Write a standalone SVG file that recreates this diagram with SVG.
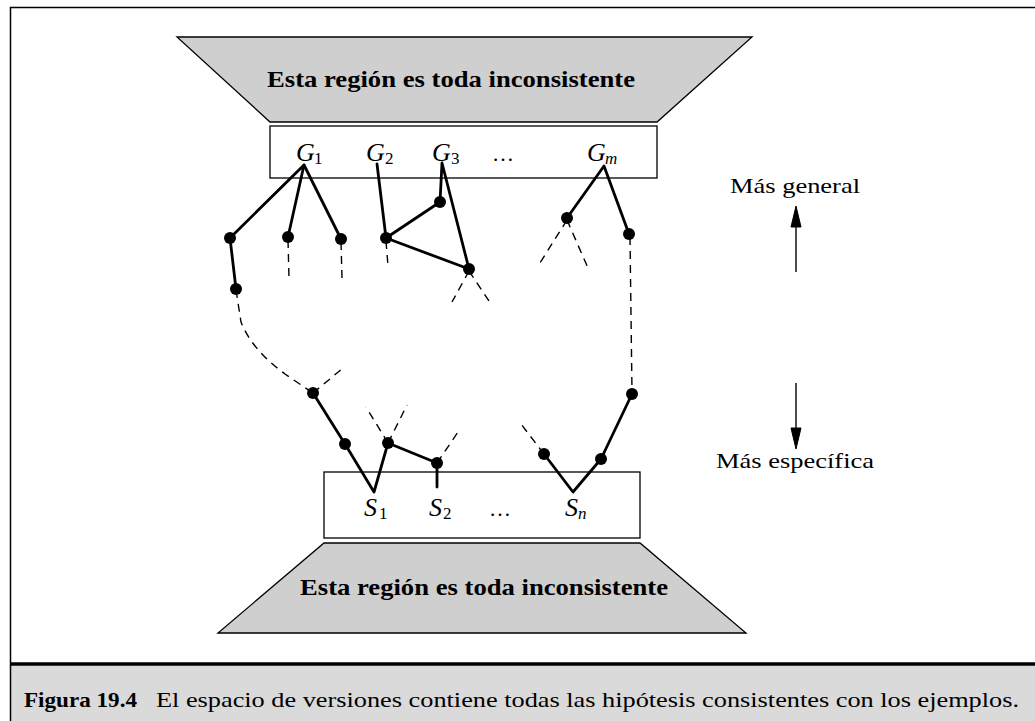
<svg xmlns="http://www.w3.org/2000/svg" width="1035" height="721" viewBox="0 0 1035 721">
<defs>
<style>
.region{fill:#cfcfcf;stroke:#000;stroke-width:1.3}
.box{fill:#fff;stroke:#000;stroke-width:1.3}
.bold{font-weight:bold;font-size:24px}
.lab{font-style:italic;font-size:26px}
.sub{font-size:17px}
.subi{font-style:italic;font-size:17px}
.norm{font-size:22px}
.dot{fill:#000}
.edge{stroke:#000;stroke-width:2.8;fill:none;stroke-linecap:round;stroke-linejoin:round}
.dash{stroke:#000;stroke-width:1.4;fill:none;stroke-dasharray:8,6}
.arr{stroke:#000;stroke-width:1.4;fill:none}
.head{fill:#000;stroke:#000;stroke-width:1}
</style>
</defs>
<rect x="0" y="0" width="1035" height="721" fill="#fff"/>
<g id="frame">
<rect x="10.5" y="665" width="1030" height="60" fill="#dadada"/>
<path d="M10.5,721 V7.5 H1035" fill="none" stroke="#000" stroke-width="1.5"/>
<line x1="10" y1="664" x2="1035" y2="664" stroke="#000" stroke-width="3.5"/>
</g>
<g font-family="Liberation Serif, Times New Roman, serif" fill="#000">
<g id="top-region">
<polygon class="region" points="177,37 752,37 657,122 270,122"/>
<text class="bold" x="267" y="87" textLength="368" lengthAdjust="spacingAndGlyphs">Esta región es toda inconsistente</text>
</g>
<g id="g-boundary">
<rect class="box" x="270" y="126" width="387" height="52"/>
<text class="lab" x="296" y="161">G</text><text class="sub" x="314" y="164">1</text>
<text class="lab" x="366" y="161">G</text><text class="sub" x="385" y="164">2</text>
<text class="lab" x="432" y="161">G</text><text class="sub" x="451" y="164">3</text>
<text class="norm" x="492" y="161">…</text>
<text class="lab" x="587" y="161">G</text><text class="subi" x="605" y="164">m</text>
</g>
<g id="s-boundary">
<rect class="box" x="324" y="472" width="316" height="66"/>
<text class="lab" x="364" y="516">S</text><text class="sub" x="379" y="519">1</text>
<text class="lab" x="429" y="516">S</text><text class="sub" x="443" y="519">2</text>
<text class="norm" x="489" y="516">…</text>
<text class="lab" x="565" y="516">S</text><text class="subi" x="578" y="519">n</text>
</g>
<g id="bottom-region">
<polygon class="region" points="324,543 640,543 746,633 218,633"/>
<text class="bold" x="300" y="595" textLength="368" lengthAdjust="spacingAndGlyphs">Esta región es toda inconsistente</text>
</g>
<g id="direction">
<text class="norm" x="730" y="193" textLength="130" lengthAdjust="spacingAndGlyphs">Más general</text>
<line class="arr" x1="796" y1="272" x2="796" y2="224"/>
<path class="head" d="M796,206 L801,227 L791,227 Z"/>
<line class="arr" x1="796" y1="383" x2="796" y2="431"/>
<path class="head" d="M796,449 L801,428 L791,428 Z"/>
<text class="norm" x="716" y="468" textLength="158" lengthAdjust="spacingAndGlyphs">Más específica</text>
</g>
<g id="caption">
<text class="norm" x="24" y="707" font-weight="bold" textLength="113" lengthAdjust="spacingAndGlyphs">Figura 19.4</text>
<text class="norm" x="156" y="707" textLength="863" lengthAdjust="spacingAndGlyphs">El espacio de versiones contiene todas las hipótesis consistentes con los ejemplos.</text>
</g>
</g>
<g id="connectors">
<polyline class="edge" points="230,238 304,165 288,237"/>
<line class="edge" x1="304" y1="165" x2="341" y2="239"/>
<line class="edge" x1="230" y1="238" x2="236" y2="289"/>
<line class="edge" x1="377" y1="164" x2="386" y2="238"/>
<polyline class="edge" points="440,202 442,163 469,269 386,238 440,202"/>
<polyline class="edge" points="567,218 604,166 629,234"/>
<polyline class="edge" points="313,393 345,444 374,492 388,443 437,463 437,487"/>
<polyline class="edge" points="632,394 601,459 573,492 544,454"/>
<line class="dash" x1="288" y1="240" x2="289" y2="278"/>
<line class="dash" x1="341" y1="242" x2="342" y2="278"/>
<line class="dash" x1="386" y1="241" x2="388" y2="266"/>
<line class="dash" x1="469" y1="271" x2="452" y2="302"/>
<line class="dash" x1="469" y1="271" x2="489" y2="301"/>
<line class="dash" x1="567" y1="220" x2="538" y2="266"/>
<line class="dash" x1="567" y1="220" x2="588" y2="268"/>
<line class="dash" x1="630" y1="237" x2="632" y2="392"/>
<path class="dash" d="M236,290 L241,322 Q252,350 285,374 L313,393"/>
<line class="dash" x1="313" y1="393" x2="343" y2="368"/>
<line class="dash" x1="388" y1="443" x2="366" y2="407"/>
<line class="dash" x1="388" y1="443" x2="407" y2="405"/>
<line class="dash" x1="437" y1="463" x2="458" y2="432"/>
<line class="dash" x1="544" y1="454" x2="521" y2="424"/>
</g>
<g id="nodes">
<circle class="dot" cx="230" cy="238" r="6"/>
<circle class="dot" cx="288" cy="237" r="6"/>
<circle class="dot" cx="341" cy="239" r="6"/>
<circle class="dot" cx="236" cy="289" r="6"/>
<circle class="dot" cx="386" cy="238" r="6"/>
<circle class="dot" cx="440" cy="202" r="6"/>
<circle class="dot" cx="469" cy="269" r="6"/>
<circle class="dot" cx="567" cy="218" r="6"/>
<circle class="dot" cx="629" cy="234" r="6"/>
<circle class="dot" cx="313" cy="393" r="6"/>
<circle class="dot" cx="345" cy="444" r="6"/>
<circle class="dot" cx="388" cy="443" r="6"/>
<circle class="dot" cx="437" cy="463" r="6"/>
<circle class="dot" cx="632" cy="394" r="6"/>
<circle class="dot" cx="601" cy="459" r="6"/>
<circle class="dot" cx="544" cy="454" r="6"/>
</g>
</svg>
